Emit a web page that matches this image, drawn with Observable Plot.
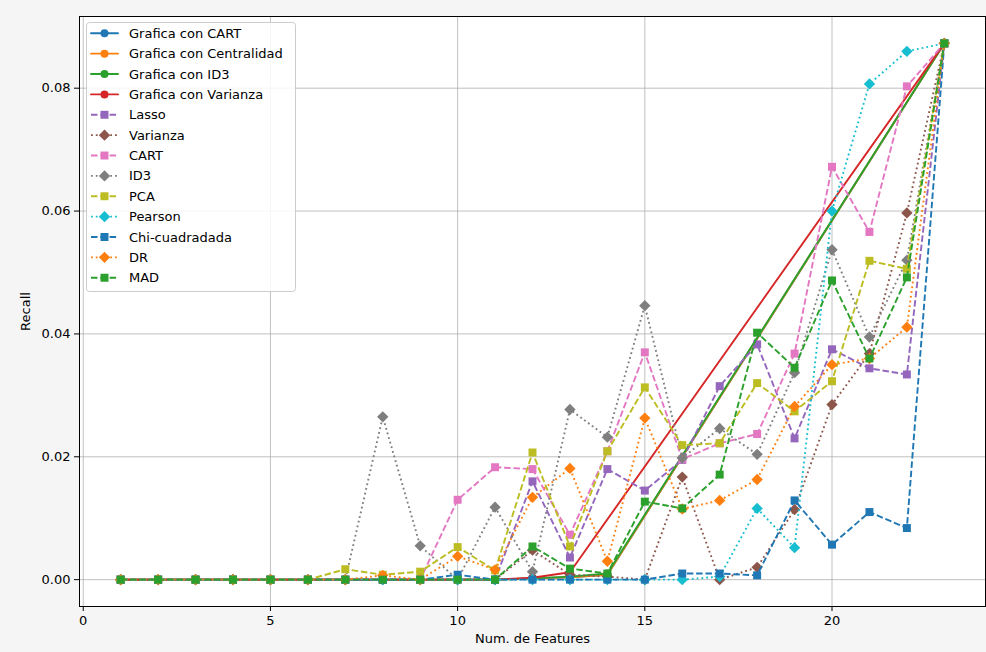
<!DOCTYPE html>
<html>
<head>
<meta charset="utf-8">
<script src="https://cdn.jsdelivr.net/npm/d3@7"></script>
<script src="https://cdn.jsdelivr.net/npm/@observablehq/plot@0.6"></script>
<style>
  html, body { margin: 0; padding: 0; background: #f5f5f5; }
  #chart svg { display: block; }
</style>
</head>
<body>
<div id="chart"></div>
<script>
// ---- Data ----
const features = [1,2,3,4,5,6,7,8,9,10,11,12,13,14,15,16,17,18,19,20,21,22,23];
const grafFeatures = [1,2,3,4,5,6,7,8,9,10,11,12,13,14,23];
const grafVarFeatures = [1,2,3,4,5,6,7,8,9,10,11,12,13,23];

const grafCART        = [0,0,0,0,0,0,0,0,0,0,0,0.0002,0.0004,0.0008,0.0873];
const grafCentralidad = [0,0,0,0,0,0,0,0,0,0,0,0.0002,0.0004,0.0008,0.0873];
const grafID3         = [0,0,0,0,0,0,0,0,0,0,0,0.0002,0.0005,0.0010,0.0873];
const grafVarianza    = [0,0,0,0,0,0,0,0,0,0,0,0.0003,0.0012,0.0873];

const lasso    = [0,0,0,0,0,0,0,0,0,0,0,0.0160,0.0036,0.0180,0.0145,0.0195,0.0315,0.0383,0.0230,0.0375,0.0344,0.0334,0.0873];
const varianza = [0,0,0,0,0,0,0,0,0,0,0,0.0048,0.0008,0.0005,0,0.0167,0,0.0020,0.0114,0.0285,0.0368,0.0597,0.0873];
const cart     = [0,0,0,0,0,0,0,0,0,0.0130,0.0183,0.0180,0.0073,0.0209,0.0370,0.0196,0.0222,0.0237,0.0368,0.0672,0.0566,0.0803,0.0873];
const id3      = [0,0,0,0,0,0,0,0.0265,0.0055,0,0.0118,0.0013,0.0277,0.0232,0.0446,0.0198,0.0246,0.0204,0.0337,0.0537,0.0395,0.0520,0.0873];
const pca      = [0,0,0,0,0,0,0.0017,0.0008,0.0013,0.0053,0.0015,0.0207,0.0054,0.0209,0.0313,0.0219,0.0222,0.0320,0.0274,0.0323,0.0519,0.0506,0.0873];
const pearson  = [0,0,0,0,0,0,0,0,0,0,0,0,0,0,0,0,0.0005,0.0116,0.0052,0.0600,0.0807,0.0860,0.0873];
const chi      = [0,0,0,0,0,0,0,0,0,0.0008,0,0,0,0,0,0.0010,0.0010,0.0007,0.0129,0.0057,0.0110,0.0084,0.0873];
const dr       = [0,0,0,0,0,0,0,0.0007,0,0.0038,0.0016,0.0134,0.0181,0.0030,0.0263,0.0115,0.0129,0.0163,0.0282,0.0350,0.0360,0.0411,0.0873];
const mad      = [0,0,0,0,0,0,0,0,0,0,0,0.0054,0.0018,0.0010,0.0127,0.0116,0.0171,0.0402,0.0345,0.0487,0.0360,0.0492,0.0873];

const seriesNames  = ["Grafica con CART","Grafica con Centralidad","Grafica con ID3","Grafica con Varianza","Lasso","Varianza","CART","ID3","PCA","Pearson","Chi-cuadradada","DR","MAD"];
const seriesX      = [grafFeatures, grafFeatures, grafFeatures, grafVarFeatures, features, features, features, features, features, features, features, features, features];
const seriesY      = [grafCART, grafCentralidad, grafID3, grafVarianza, lasso, varianza, cart, id3, pca, pearson, chi, dr, mad];
const seriesColors = ["#1f77b4","#ff7f0e","#2ca02c","#d62728","#9467bd","#8c564b","#e377c2","#7f7f7f","#bcbd22","#17becf","#1f77b4","#ff7f0e","#2ca02c"];
const seriesStyles = ["solid","solid","solid","solid","dashed","dotted","dashed","dotted","dashed","dotted","dashed","dotted","dashed"];
const seriesMarks  = ["circle","circle","circle","circle","square","diamond","square","diamond","square","diamond","square","diamond","square"];

const xTicks = [0,5,10,15,20];
const yTicks = [0,0.02,0.04,0.06,0.08];

// ---- Styles ----
const dashFor = {solid: null, dashed: "6.5,2.8", dotted: "1.8,3"};
const capFor  = {solid: "round", dashed: "butt", dotted: "butt"};
const symFor  = {circle: "circle", square: "square", diamond: "diamond2"};
const rFor    = {circle: 4, square: 4.5, diamond: 5.1};
const d3Sym   = {circle: d3.symbolCircle, square: d3.symbolSquare, diamond: d3.symbolDiamond2};

// ---- Marks ----
const seriesMarksList = [];
seriesNames.forEach((name, i) => {
  const data = seriesX[i].map((x, j) => ({x, y: seriesY[i][j]}));
  seriesMarksList.push(Plot.line(data, {
    x: "x", y: "y", stroke: seriesColors[i], strokeWidth: 1.9,
    strokeDasharray: dashFor[seriesStyles[i]], strokeLinecap: capFor[seriesStyles[i]],
    strokeLinejoin: "round"
  }));
  seriesMarksList.push(Plot.dot(data, {
    x: "x", y: "y", fill: seriesColors[i], stroke: "none",
    symbol: symFor[seriesMarks[i]], r: rFor[seriesMarks[i]]
  }));
});

const chart = Plot.plot({
  width: 986, height: 652,
  marginLeft: 79, marginRight: 1, marginTop: 16, marginBottom: 46,
  style: {background: "#f5f5f5", fontFamily: "DejaVu Sans", fontSize: "13px", color: "black", overflow: "visible"},
  x: {domain: [-0.1, 24.1], ticks: xTicks, tickFormat: d => String(d), label: "Num. de Features",
      labelAnchor: "center", labelOffset: 36, labelArrow: "none", tickSize: 5, tickPadding: 4},
  y: {domain: [-0.00437, 0.09167], ticks: yTicks, tickFormat: d3.format(".2f"), label: "Recall",
      labelAnchor: "center", labelOffset: 59, labelArrow: "none", tickSize: 5, tickPadding: 4},
  marks: [
    Plot.frame({fill: "white", stroke: "none"}),
    Plot.gridX(xTicks, {stroke: "#b0b0b0", strokeOpacity: 1, strokeWidth: 0.8}),
    Plot.gridY(yTicks, {stroke: "#b0b0b0", strokeOpacity: 1, strokeWidth: 0.8}),
    ...seriesMarksList,
    Plot.frame({stroke: "black", strokeWidth: 1})
  ]
});
document.getElementById("chart").appendChild(chart);

// ---- Legend ----
const svg = d3.select(chart);
const lg = svg.append("g").attr("font-family", "DejaVu Sans").attr("font-size", 13)
  .attr("text-anchor", "start");
lg.append("rect").attr("x", 86.5).attr("y", 22.5).attr("width", 209).attr("height", 269)
  .attr("rx", 3).attr("fill", "white").attr("fill-opacity", 0.85).attr("stroke", "#cccccc");
seriesNames.forEach((name, i) => {
  const cy = 33.3 + i * 20.37;
  const st = seriesStyles[i];
  lg.append("line").attr("x1", 91).attr("x2", 118).attr("y1", cy).attr("y2", cy)
    .attr("stroke", seriesColors[i]).attr("stroke-width", 1.9)
    .attr("stroke-dasharray", dashFor[st]).attr("stroke-linecap", capFor[st]);
  const r = rFor[seriesMarks[i]];
  lg.append("path").attr("transform", `translate(104.5,${cy})`)
    .attr("d", d3.symbol(d3Sym[seriesMarks[i]], Math.PI * r * r)())
    .attr("fill", seriesColors[i]);
  lg.append("text").attr("x", 129).attr("y", cy).attr("dy", "0.35em")
    .attr("text-anchor", "start").attr("fill", "black").text(name);
});
</script>
</body>
</html>
